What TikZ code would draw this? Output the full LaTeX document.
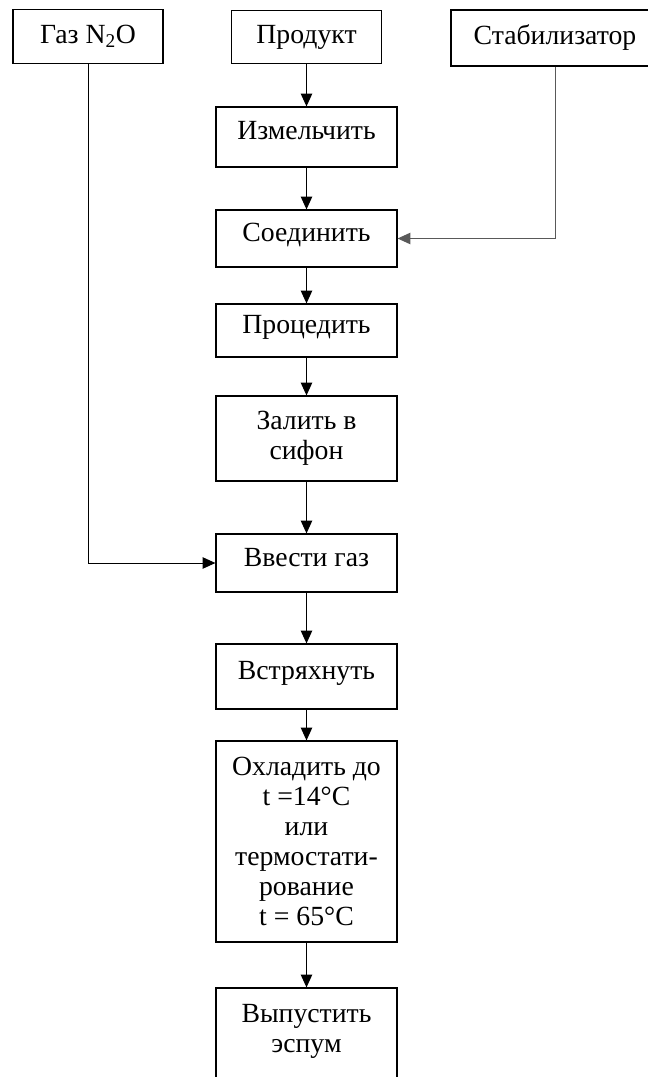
\documentclass[tikz,border=0pt]{standalone}
\usepackage{fontspec}
\setmainfont{Liberation Serif}
\usetikzlibrary{positioning, arrows.meta}

\begin{document}
\begin{tikzpicture}[
    x=0.75pt, y=-0.75pt,
    every node/.style={font=\fontsize{20.8}{22.5}\selectfont},
    box/.style={draw, line width=0.9pt, rectangle, align=center, inner sep=2pt},
    input/.style={box, minimum width=112.5pt, minimum height=40pt},
    stage/.style={box, minimum width=135.75pt},
    oneline/.style={text height=14pt, text depth=9.5pt},
    arrow/.style={-{Triangle[length=9.5pt, width=8.5pt]}, line width=0.75pt}
]
\path[use as bounding box, clip] (0,0) rectangle (648,1077);

% Inputs
\node[input] (gas) at (88,36.5) {Газ N\textsubscript{2}O};
\node[input] (prod) at (306.5,37) {Продукт};
\node[input, minimum width=156pt, minimum height=42pt] (stab) at (555,38) {Стабилизатор};

% Main chain
\node[stage, oneline, minimum height=45pt] (izm) at (306.5,137) {Измельчить};
\node[stage, oneline, minimum height=42.75pt] (soed) at (306.5,238.5) {Соединить};
\node[stage, oneline, minimum height=39.75pt] (proc) at (306.5,330.5) {Процедить};
\node[stage, minimum height=63.75pt] (zal) at (306.5,438.5) {Залить в\\сифон};
\node[stage, oneline, minimum height=43.5pt] (gasin) at (306.5,563) {Ввести газ};
\node[stage, oneline, minimum height=48.75pt] (shake) at (306.5,676.5) {Встряхнуть};
\node[stage, minimum height=150.75pt] (cool) at (306.5,841.5) {Охладить до\\t =14°C\\или\\термостати-\\рование\\t = 65°C};
\node[stage, minimum height=72.75pt] (out) at (306.5,1036.5) {Выпустить\\эспум\\[-11pt]};

\draw[arrow] (prod) -- (izm);
\draw[arrow] (izm) -- (soed);
\draw[arrow] (soed) -- (proc);
\draw[arrow] (proc) -- (zal);
\draw[arrow] (zal) -- (gasin);
\draw[arrow] (gasin) -- (shake);
\draw[arrow] (shake) -- (cool);
\draw[arrow] (cool) -- (out);

% Side feeds
\draw[arrow, draw=black!65] (stab.south) |- (soed.east);
\draw[arrow] (gas.south) |- (gasin.west);

\end{tikzpicture}
\end{document}
